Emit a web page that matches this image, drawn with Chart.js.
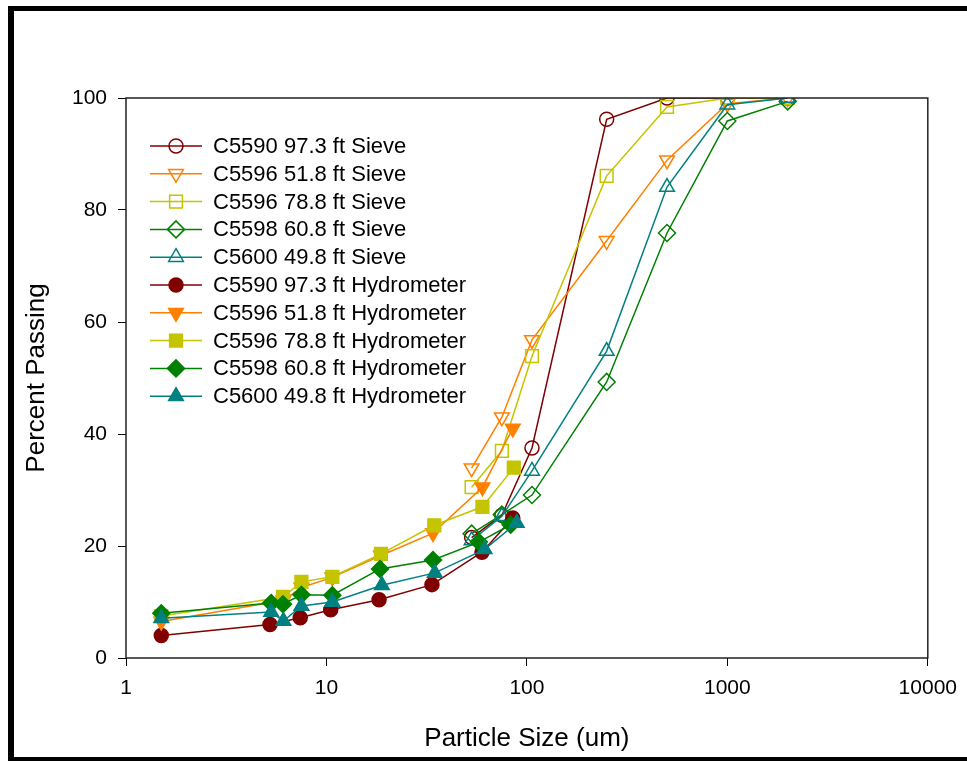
<!DOCTYPE html>
<html>
<head>
<meta charset="utf-8">
<title>Particle Size Distribution</title>
<script src="https://cdn.jsdelivr.net/npm/chart.js@4.4.1/dist/chart.umd.min.js"></script>
<style>
  html, body { margin: 0; padding: 0; background: #fff; }
  canvas { display: block; }
</style>
</head>
<body>
<canvas id="psd" width="967" height="761"></canvas>
<script>
// Sieve sizes (um) shared by all sieve series
const sieveSizes = [2000, 1000, 500, 250, 106, 75, 53];

const c5590Sieve = [100, 100, 100, 96.2, 37.5, 25.5, 21.5];
const c5596_518Sieve = [100, 99, 88.9, 74.5, 56.8, 43.0, 33.9];
const c5596_788Sieve = [100, 100, 98.4, 86.1, 53.9, 37.0, 30.5];
const c5598Sieve = [99.4, 95.9, 75.9, 49.3, 29.1, 25.6, 22.2];
const c5600Sieve = [100, 98.8, 84.1, 54.8, 33.4, 25.3, 21.0];

// Hydrometer readings: each sample has its own particle diameters
const c5590HydroSize = [1.5, 5.23, 7.4, 10.5, 18.3, 33.6, 59.7, 85];
const c5590Hydro = [4.0, 6.0, 7.2, 8.6, 10.4, 13.1, 18.9, 25.0];
const c5596_518HydroSize = [1.5, 6.1, 7.5, 10.7, 18.7, 34, 60, 85];
const c5596_518Hydro = [6.5, 10.3, 12.6, 14.4, 18.3, 22.3, 30.5, 41.0];
const c5596_788HydroSize = [1.5, 6.07, 7.5, 10.7, 18.7, 34.5, 60, 86];
const c5596_788Hydro = [7.5, 10.9, 13.6, 14.5, 18.6, 23.7, 27.0, 34.0];
const c5598HydroSize = [1.5, 5.3, 6.07, 7.5, 10.7, 18.5, 34, 57.6, 83];
const c5598Hydro = [8.0, 9.8, 9.6, 11.3, 11.2, 15.9, 17.5, 20.7, 23.8];
const c5600HydroSize = [1.5, 5.3, 6.1, 7.5, 10.7, 18.9, 34.7, 61.5, 89];
const c5600Hydro = [7.1, 8.2, 6.6, 9.3, 10.0, 13.0, 15.2, 19.4, 24.1];

const xTicks = [1, 10, 100, 1000, 10000];
const yTicks = [0, 20, 40, 60, 80, 100];

const colors = {
    darkRed: '#800000',
    orange: '#ff8000',
    olive: '#c4c400',
    green: '#008000',
    teal: '#008080'
};

const toPoints = (xs, ys) => xs.map((x, i) => ({ x: x, y: ys[i] }));

// Helper to build one series
const makeSeries = (label, xs, ys, color, style, filled) => {
    let radius = 7;
    let rotation = 0;
    if (style === 'rect') radius = 9;
    if (style === 'rectRot') radius = 8.5;
    if (style === 'triangle' || style === 'triangleDown') radius = 8.5;
    if (style === 'triangleDown') { style = 'triangle'; rotation = 180; }
    return {
        label: label,
        data: toPoints(xs, ys),
        showLine: true,
        borderColor: color,
        borderWidth: 1.5,
        pointBorderColor: color,
        pointBackgroundColor: filled ? color : 'rgba(0,0,0,0)',
        pointBorderWidth: 1.5,
        pointStyle: style,
        pointRotation: rotation,
        pointRadius: radius,
        pointHoverRadius: radius,
        fill: false,
        tension: 0
    };
};

const datasets = [
    makeSeries('C5590 97.3 ft Sieve', sieveSizes, c5590Sieve, colors.darkRed, 'circle', false),
    makeSeries('C5596 51.8 ft Sieve', sieveSizes, c5596_518Sieve, colors.orange, 'triangleDown', false),
    makeSeries('C5596 78.8 ft Sieve', sieveSizes, c5596_788Sieve, colors.olive, 'rect', false),
    makeSeries('C5598 60.8 ft Sieve', sieveSizes, c5598Sieve, colors.green, 'rectRot', false),
    makeSeries('C5600 49.8 ft Sieve', sieveSizes, c5600Sieve, colors.teal, 'triangle', false),
    makeSeries('C5590 97.3 ft Hydrometer', c5590HydroSize, c5590Hydro, colors.darkRed, 'circle', true),
    makeSeries('C5596 51.8 ft Hydrometer', c5596_518HydroSize, c5596_518Hydro, colors.orange, 'triangleDown', true),
    makeSeries('C5596 78.8 ft Hydrometer', c5596_788HydroSize, c5596_788Hydro, colors.olive, 'rect', true),
    makeSeries('C5598 60.8 ft Hydrometer', c5598HydroSize, c5598Hydro, colors.green, 'rectRot', true),
    makeSeries('C5600 49.8 ft Hydrometer', c5600HydroSize, c5600Hydro, colors.teal, 'triangle', true)
];
// later series drawn on top
datasets.forEach((ds, i) => { ds.order = datasets.length - i; });

// Outer frame + plot box
const framePlugin = {
    id: 'frame',
    beforeDraw(chart) {
        const ctx = chart.ctx;
        ctx.save();
        ctx.fillStyle = '#fff';
        ctx.fillRect(0, 0, chart.width, chart.height);
        ctx.fillStyle = '#000';
        ctx.fillRect(8, 6, 6, 755);
        ctx.fillRect(8, 6, 959, 5);
        ctx.fillRect(8, 757, 959, 4);
        ctx.restore();
    },
    afterDatasetsDraw(chart) {
        const { ctx, chartArea } = chart;
        ctx.save();
        ctx.strokeStyle = '#222';
        ctx.lineWidth = 1.5;
        ctx.strokeRect(chartArea.left, chartArea.top, chartArea.right - chartArea.left, chartArea.bottom - chartArea.top);
        ctx.restore();
    }
};

// Legend with line + marker, inside the plot
const legendPlugin = {
    id: 'insideLegend',
    afterDraw(chart) {
        const ctx = chart.ctx;
        const startY = 146;
        const rowH = 27.8;
        ctx.save();
        ctx.font = '22px "Liberation Sans", Arial, sans-serif';
        ctx.textBaseline = 'middle';
        ctx.textAlign = 'left';
        chart.data.datasets.forEach((ds, i) => {
            const y = startY + i * rowH;
            ctx.strokeStyle = ds.borderColor;
            ctx.lineWidth = 1.5;
            ctx.beginPath();
            ctx.moveTo(150, y);
            ctx.lineTo(202, y);
            ctx.stroke();
            ctx.fillStyle = ds.pointBackgroundColor;
            ctx.strokeStyle = ds.pointBorderColor;
            ctx.lineWidth = ds.pointBorderWidth;
            Chart.helpers.drawPoint(ctx, {
                pointStyle: ds.pointStyle,
                rotation: ds.pointRotation,
                radius: ds.pointRadius,
                borderWidth: ds.pointBorderWidth
            }, 176, y);
            ctx.fillStyle = '#000';
            ctx.fillText(ds.label, 213, y + 1);
        });
        ctx.restore();
    }
};

const tickFont = { family: '"Liberation Sans", Arial, sans-serif', size: 21 };
const titleFont = { family: '"Liberation Sans", Arial, sans-serif', size: 26 };

new Chart(document.getElementById('psd'), {
    type: 'scatter',
    data: { datasets: datasets },
    plugins: [framePlugin, legendPlugin],
    options: {
        responsive: false,
        animation: false,
        devicePixelRatio: 1,
        layout: { padding: { left: 14, top: 98, right: 39, bottom: 0 } },
        plugins: {
            legend: { display: false },
            tooltip: { enabled: false }
        },
        scales: {
            x: {
                type: 'logarithmic',
                min: 1,
                max: 10000,
                afterBuildTicks: scale => { scale.ticks = xTicks.map(v => ({ value: v })); },
                afterFit: scale => { scale.height = 103; },
                ticks: {
                    color: '#000',
                    font: tickFont,
                    padding: 10,
                    maxRotation: 0,
                    callback: value => String(value)
                },
                grid: {
                    display: true,
                    drawOnChartArea: false,
                    drawTicks: true,
                    tickLength: 8,
                    color: '#000',
                    lineWidth: 1
                },
                border: { display: false },
                title: {
                    display: true,
                    text: 'Particle Size (um)',
                    color: '#000',
                    font: titleFont,
                    padding: { bottom: 7, top: 0 }
                }
            },
            y: {
                min: 0,
                max: 100,
                afterBuildTicks: scale => { scale.ticks = yTicks.map(v => ({ value: v })); },
                afterFit: scale => { scale.width = 112; },
                ticks: {
                    color: '#000',
                    font: tickFont,
                    padding: 11
                },
                grid: {
                    display: true,
                    drawOnChartArea: false,
                    drawTicks: true,
                    tickLength: 8,
                    color: '#000',
                    lineWidth: 1
                },
                border: { display: false },
                title: {
                    display: true,
                    text: 'Percent Passing',
                    color: '#000',
                    font: titleFont,
                    padding: { top: 7, bottom: 0 }
                }
            }
        }
    }
});
</script>
</body>
</html>
